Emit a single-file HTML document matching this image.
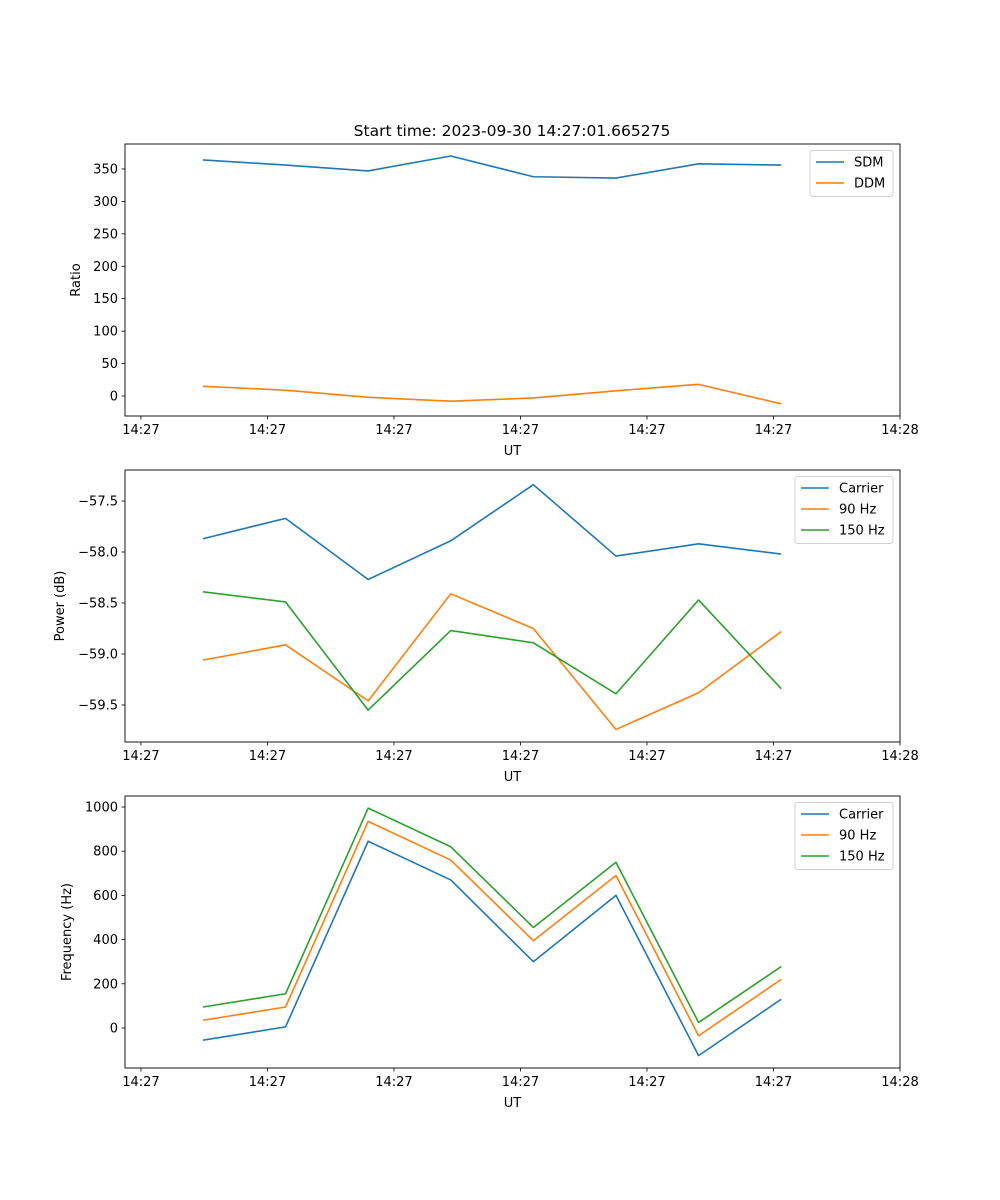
<!DOCTYPE html>
<html><head><meta charset="utf-8"><style>
html,body{margin:0;padding:0;background:#fff}
svg{display:block;font-family:"DejaVu Sans","Liberation Sans",sans-serif}
</style></head><body>
<svg id="fig" width="1000" height="1200" viewBox="0 0 1000 1200">
<rect width="1000" height="1200" fill="#fff"/>
<text x="512" y="136" font-size="15.5" text-anchor="middle" fill="#000">Start time: 2023-09-30 14:27:01.665275</text>
</svg>
<script>
const times = [4.9, 11.43, 17.96, 24.49, 31.02, 37.55, 44.08, 50.61];
const xTicks = [0, 10, 20, 30, 40, 50, 60];
const xTickLabels = ["14:27","14:27","14:27","14:27","14:27","14:27","14:28"];
const sdm = [364, 356, 347, 370, 338, 336, 358, 356];
const ddm = [15, 9, -2, -8, -3, 8, 18, -12];
const powCarrier = [-57.87, -57.67, -58.27, -57.89, -57.34, -58.04, -57.92, -58.02];
const pow90 = [-59.06, -58.91, -59.46, -58.41, -58.75, -59.74, -59.38, -58.78];
const pow150 = [-58.39, -58.49, -59.55, -58.77, -58.89, -59.39, -58.47, -59.34];
const freqCarrier = [-55, 5, 845, 670, 300, 600, -125, 130];
const freq90 = [35, 95, 935, 760, 395, 690, -35, 220];
const freq150 = [95, 155, 995, 820, 455, 750, 25, 278];
const ratioTicks = [0, 50, 100, 150, 200, 250, 300, 350];
const powerTicks = [-59.5, -59.0, -58.5, -58.0, -57.5];
const freqTicks = [0, 200, 400, 600, 800, 1000];

const NS = "http://www.w3.org/2000/svg";
const svg = document.getElementById('fig');
function mk(tag, attrs, parent) {
  const e = document.createElementNS(NS, tag);
  for (const k in attrs) e.setAttribute(k, attrs[k]);
  (parent || svg).appendChild(e);
  return e;
}
const L = 125, R = 900, xmin = -1.26, xmax = 60;
const xs = t => L + (t - xmin) / (xmax - xmin) * (R - L);
const fmt = v => (v < 0 ? "\u2212" : "") + Math.abs(v);
const fmt1 = v => (v < 0 ? "\u2212" : "") + Math.abs(v).toFixed(1);

function panel(name, top, bottom, ymin, ymax, yTicks, tickFmt, ylabel, series, legend) {
  const g = mk('g', {});
  
  
  const ys = v => bottom - (v - ymin) / (ymax - ymin) * (bottom - top);
  yTicks.forEach(v => {
    const y = ys(v);
    mk('line', {x1: L - 3.5, x2: L, y1: y, y2: y, stroke: '#000', 'stroke-width': 0.8}, g);
    const t = mk('text', {x: L - 7, y: y + 4.5, 'font-size': 13, 'text-anchor': 'end'}, g);
    
    
    t.textContent = tickFmt(v);
  });
  xTicks.forEach((v, i) => {
    const x = xs(v);
    mk('line', {x1: x, x2: x, y1: bottom, y2: bottom + 3.5, stroke: '#000', 'stroke-width': 0.8}, g);
    const t = mk('text', {x: x, y: bottom + 18, 'font-size': 13, 'text-anchor': 'middle'}, g);
    
    
    t.textContent = xTickLabels[i];
  });
  const xl = mk('text', {x: (L + R) / 2, y: bottom + 39, 'font-size': 13, 'text-anchor': 'middle'}, g);
  
  
  xl.textContent = 'UT';
  const yx = name === 'ratio' ? 80 : (name === 'power' ? 64 : 71);
  const yl = mk('text', {x: yx, y: (top + bottom) / 2, 'font-size': 13, 'text-anchor': 'middle', transform: `rotate(-90 ${yx} ${(top + bottom) / 2})`}, g);
  
  
  yl.textContent = ylabel;
  series.forEach(s => {
    const p = mk('polyline', {points: s.vals.map((v, i) => xs(times[i]) + ',' + ys(v)).join(' '), fill: 'none', stroke: s.color, 'stroke-width': 1.6, 'stroke-linejoin': 'round'}, g);
    
    
  });
  mk('rect', {x: L, y: top, width: R - L, height: bottom - top, fill: 'none', stroke: '#000', 'stroke-width': 0.9}, g);
  const lg = mk('g', {}, g);
  
  
  mk('rect', {x: legend.x, y: top + 6.5, width: 893 - legend.x, height: series.length * 21 + 4, rx: 3, fill: '#fff', stroke: '#ccc', 'stroke-width': 1, opacity: 0.9}, lg);
  series.forEach((s, i) => {
    const y = top + 18 + i * 21;
    mk('line', {x1: legend.x + 6, x2: legend.x + 34, y1: y, y2: y, stroke: s.color, 'stroke-width': 1.6}, lg);
    const t = mk('text', {x: legend.x + 44, y: y + 4.5, 'font-size': 13}, lg);
    
    
    t.textContent = s.label;
  });
}
const C1 = '#1f77b4', C2 = '#ff7f0e', C3 = '#2ca02c';
panel('ratio', 144, 416, -30.8, 388.5, ratioTicks, fmt, 'Ratio',
  [{key: 'sdm', label: 'SDM', vals: sdm, color: C1}, {key: 'ddm', label: 'DDM', vals: ddm, color: C2}], {x: 810});
panel('power', 470, 742, -59.863, -57.196, powerTicks, fmt1, 'Power (dB)',
  [{key: 'carrier', label: 'Carrier', vals: powCarrier, color: C1}, {key: '90hz', label: '90 Hz', vals: pow90, color: C2}, {key: '150hz', label: '150 Hz', vals: pow150, color: C3}], {x: 795});
panel('frequency', 796, 1068, -181, 1049.8, freqTicks, fmt, 'Frequency (Hz)',
  [{key: 'carrier', label: 'Carrier', vals: freqCarrier, color: C1}, {key: '90hz', label: '90 Hz', vals: freq90, color: C2}, {key: '150hz', label: '150 Hz', vals: freq150, color: C3}], {x: 795});
</script>
</body></html>
